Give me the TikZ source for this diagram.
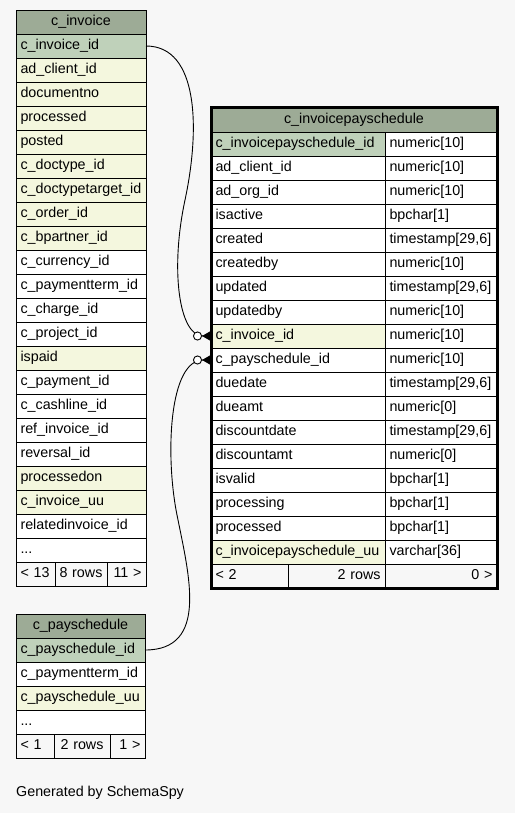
\documentclass[tikz,border=0pt]{standalone}
\usepackage{fontspec}
\setmainfont{Liberation Sans}
\usetikzlibrary{arrows.meta,positioning,fit}
\definecolor{pagebg}{HTML}{F7F7F7}
\definecolor{headgreen}{HTML}{9DAB96}
\definecolor{keygreen}{HTML}{BFD1BA}
\definecolor{idxyellow}{HTML}{F4F7DE}
\newcommand{\moredots}{...}

\begin{document}
\begin{tikzpicture}[
  x=1pt, y=-1pt,
  font=\fontsize{14.3}{16}\selectfont,
  cell/.style={draw, line width=0.9pt, anchor=north west, outer sep=0pt, minimum height=24pt, inner xsep=4.5pt, inner ysep=0pt, text height=10pt, text depth=3pt, fill=white, align=left},
  hdr/.style={cell, fill=headgreen, align=center},
  foot/.style={cell, fill=none},
  fk/.style={-{Circle[length=9pt, fill=white] Triangle[reversed, length=9pt, width=10pt]}, line width=0.9pt},
]
% --- Page ---
\fill[pagebg] (0,0) rectangle (515,813);
\useasboundingbox (0,0) rectangle (515,813);

% --- c_invoice ---
\node[hdr, text width=121pt] (invhead) at (16,10) {c\_invoice};
\foreach \col/\clr [count=\i from 0] in {c\_invoice\_id/keygreen, ad\_client\_id/idxyellow, documentno/idxyellow, processed/idxyellow, posted/idxyellow, c\_doctype\_id/idxyellow, c\_doctypetarget\_id/idxyellow, c\_order\_id/idxyellow, c\_bpartner\_id/idxyellow, c\_currency\_id/white, c\_paymentterm\_id/white, c\_charge\_id/white, c\_project\_id/white, ispaid/idxyellow, c\_payment\_id/white, c\_cashline\_id/white, ref\_invoice\_id/white, reversal\_id/white, processedon/idxyellow, c\_invoice\_uu/idxyellow, relatedinvoice\_id/white, \moredots/white}
  \node[cell, text width=121pt, fill=\clr] (inv\i) at (16,{34+24*\i}) {\col};
\node[foot, text width=30pt] (invprev) at (16,562) {< 13};
\node[foot, text width=43pt, right=0pt of invprev] (invrows) {8 rows};
\node[foot, text width=30pt, align=right, right=0pt of invrows] (invnext) {11 >};

% --- c_invoicepayschedule ---
\node[hdr, text width=277pt] (ipshead) at (211,108) {c\_invoicepayschedule};
\foreach \col/\typ/\clr [count=\i from 0] in {c\_invoicepayschedule\_id/numeric[10]/keygreen, ad\_client\_id/numeric[10]/white, ad\_org\_id/numeric[10]/white, isactive/bpchar[1]/white, created/{timestamp[29,6]}/white, createdby/numeric[10]/white, updated/{timestamp[29,6]}/white, updatedby/numeric[10]/white, c\_invoice\_id/numeric[10]/idxyellow, c\_payschedule\_id/numeric[10]/white, duedate/{timestamp[29,6]}/white, dueamt/numeric[0]/white, discountdate/{timestamp[29,6]}/white, discountamt/numeric[0]/white, isvalid/bpchar[1]/white, processing/bpchar[1]/white, processed/bpchar[1]/white, c\_invoicepayschedule\_uu/varchar[36]/idxyellow}
{
  \node[cell, text width=165pt, fill=\clr] (ips\i) at (211,{132+24*\i}) {\col};
  \node[cell, text width=103pt] (ipstype\i) at (385,{132+24*\i}) {\typ};
}
\node[foot, text width=68pt] (ipsprev) at (211,564) {< 2};
\node[foot, text width=88pt, align=right, right=0pt of ipsprev] (ipsrows) {2 rows};
\node[foot, text width=103pt, align=right, right=0pt of ipsrows] (ipsnext) {0 >};
\node[draw, line width=3pt, fit=(ipshead)(ipsnext), inner sep=0pt] (ipsframe) {};

% --- c_payschedule ---
\node[hdr, text width=120pt] (payhead) at (16,614) {c\_payschedule};
\foreach \col/\clr [count=\i from 0] in {c\_payschedule\_id/keygreen, c\_paymentterm\_id/white, c\_payschedule\_uu/idxyellow, \moredots/white}
  \node[cell, text width=120pt, fill=\clr] (pay\i) at (16,{638+24*\i}) {\col};
\node[foot, text width=29pt] (payprev) at (16,734) {< 1};
\node[foot, text width=47pt, align=center, right=0pt of payprev] (payrows) {2 rows};
\node[foot, text width=26pt, align=right, right=0pt of payrows] (paynext) {1 >};

% --- Foreign keys ---
\coordinate (bend1) at (185,200);
\coordinate (bend2) at (177,515);
\draw[fk] (inv0.east) .. controls +(53,0) and +(15,-70) .. (bend1)
  .. controls +(-15,70) and +(-32,0) .. (ips8.west);
\draw[fk] (pay0.east) .. controls +(64,0) and +(12,60) .. (bend2)
  .. controls +(-12,-60) and +(-42,0) .. (ips9.west);

\node[anchor=west, inner sep=0pt] (credit) at (16,793) {Generated by SchemaSpy};
\end{tikzpicture}
\end{document}
